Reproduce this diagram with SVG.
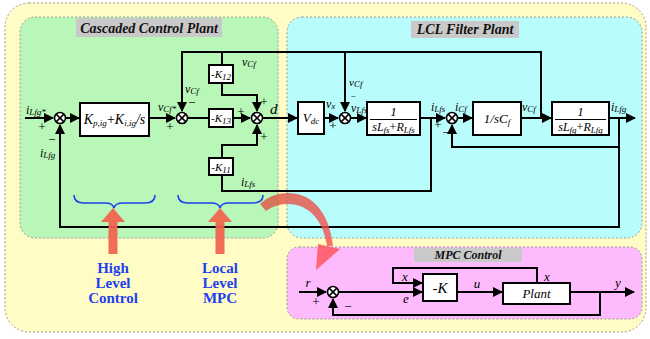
<svg xmlns="http://www.w3.org/2000/svg" width="650" height="339" viewBox="0 0 650 339" font-family="'Liberation Serif','Times New Roman','DejaVu Serif',serif">
<style>
.bg{stroke:#999;stroke-width:1;stroke-dasharray:2,2}
.ttl{fill:#c9c9c9}
text{font-family:'Liberation Serif','Times New Roman','DejaVu Serif',serif}
.tt{font-weight:bold;font-style:italic;font-size:14px;text-anchor:middle;fill:#111}
.t{font-style:italic;font-size:13px;fill:#000}
.p{font-size:13px;fill:#000}
.c{text-anchor:middle}
.s{font-size:9px}
.box{fill:#fff;stroke:#000;stroke-width:2}
.w{fill:none;stroke:#000;stroke-width:2}
.sum{fill:#fff;stroke:#000;stroke-width:1.6}
.bl{font-weight:bold;font-size:15px;fill:#1f3ff0;text-anchor:middle}
.br{fill:none;stroke:#1f3ff0;stroke-width:1.6}
.ra{fill:#f2614c;opacity:0.92}
</style>
<defs>
<marker id="ah" viewBox="0 0 10 10" refX="9" refY="5" markerWidth="5" markerHeight="5" orient="auto" markerUnits="strokeWidth">
<path d="M0 0 L10 5 L0 10 z" fill="#000"/>
</marker>
<symbol id="sx" overflow="visible">
<circle cx="0" cy="0" r="5.5" class="sum"/>
<path d="M-3.9 -3.9 L3.9 3.9 M3.9 -3.9 L-3.9 3.9" stroke="#000" stroke-width="1.5"/>
</symbol>
<linearGradient id="rg" x1="260" y1="200" x2="335" y2="265" gradientUnits="userSpaceOnUse">
<stop offset="0" stop-color="#d9543f"/>
<stop offset="1" stop-color="#ff4f55"/>
</linearGradient>
</defs>
<rect x="0" y="0" width="650" height="339" fill="#fff"/>
<g id="regions">
<rect x="5" y="3" width="641" height="329" rx="24" fill="#fffcc5" class="bg"/>
<rect x="20" y="17" width="258" height="221" rx="15" fill="#b9f7b9" class="bg"/>
<rect x="287" y="17" width="355" height="221" rx="15" fill="#b9fcfc" class="bg"/>
<rect x="287" y="247" width="355" height="72" rx="12" fill="#fdbafd" class="bg"/>
<rect x="76" y="18" width="146" height="19" class="ttl"/>
<text x="149" y="33" class="tt">Cascaded Control Plant</text>
<rect x="411" y="21" width="108" height="17" class="ttl"/>
<text x="465" y="34" class="tt">LCL Filter Plant</text>
<rect x="414" y="248" width="108" height="14" class="ttl"/>
<text x="468" y="259" class="tt" style="font-size:12px">MPC Control</text>
</g>
<g id="connectors">
<path class="w" d="M25 118 H53" marker-end="url(#ah)"/>
<path class="w" d="M65.5 118 H79" marker-end="url(#ah)"/>
<path class="w" d="M149 118 H175" marker-end="url(#ah)"/>
<path class="w" d="M187.5 118 H209"/>
<path class="w" d="M233 118 H250" marker-end="url(#ah)"/>
<path class="w" d="M262.5 118 H297" marker-end="url(#ah)"/>
<path class="w" d="M324 118 H338" marker-end="url(#ah)"/>
<path class="w" d="M350.5 118 H366" marker-end="url(#ah)"/>
<path class="w" d="M420 118 H445" marker-end="url(#ah)"/>
<path class="w" d="M457.5 118 H472" marker-end="url(#ah)"/>
<path class="w" d="M521 118 H551" marker-end="url(#ah)"/>
<path class="w" d="M609 118 H635" marker-end="url(#ah)"/>
<path class="w" d="M541 118 V52 H182 V111" marker-end="url(#ah)"/>
<path class="w" d="M345 52 V111" marker-end="url(#ah)"/>
<path class="w" d="M222 52 V65"/>
<path class="w" d="M222 83 V95 H257 V111" marker-end="url(#ah)"/>
<path class="w" d="M222 158 V145 H257 V125" marker-end="url(#ah)"/>
<path class="w" d="M431 118 V191 H222 V175"/>
<path class="w" d="M619 118 V147 H452 V125" marker-end="url(#ah)"/>
<path class="w" d="M619 147 V227 H60 V125" marker-end="url(#ah)"/>
<path class="w" d="M299 292 H326" marker-end="url(#ah)"/>
<path class="w" d="M338.5 292 H422" marker-end="url(#ah)"/>
<path class="w" d="M457 292 H502" marker-end="url(#ah)"/>
<path class="w" d="M570 292 H634" marker-end="url(#ah)"/>
<path class="w" d="M600 292 V315 H333 V299" marker-end="url(#ah)"/>
<path class="w" d="M537 283 V268 H393 V283 H422" marker-end="url(#ah)"/>
</g>
<g id="sum1"><use href="#sx" x="60" y="118"/></g>
<g id="sum2"><use href="#sx" x="182" y="118"/></g>
<g id="sum5"><use href="#sx" x="257" y="118"/></g>
<g id="sum4"><use href="#sx" x="345" y="118"/></g>
<g id="sum3"><use href="#sx" x="452" y="118"/></g>
<g id="sumMPC"><use href="#sx" x="333" y="292"/></g>
<g id="Kpi">
<rect x="80" y="103" width="69" height="33" class="box"/>
<text x="114.5" y="124" class="t c" style="font-size:14px">K<tspan class="s" dy="2">p,ig</tspan><tspan dy="-2" style="font-style:normal">+</tspan>K<tspan class="s" dy="2">i,ig</tspan><tspan dy="-2">/s</tspan></text>
</g>
<g id="K12">
<rect x="209" y="65" width="24" height="18" class="box"/>
<text x="221" y="78" class="t c" style="font-size:11px">-K<tspan class="s" dy="2">12</tspan></text>
</g>
<g id="K13">
<rect x="209" y="109" width="24" height="18" class="box"/>
<text x="221" y="122" class="t c" style="font-size:11px">-K<tspan class="s" dy="2">13</tspan></text>
</g>
<g id="K11">
<rect x="209" y="158" width="24" height="17" class="box"/>
<text x="221" y="171" class="t c" style="font-size:11px">-K<tspan class="s" dy="2">11</tspan></text>
</g>
<g id="Vdc">
<rect x="298" y="102" width="26" height="32" class="box"/>
<text x="311" y="122" class="t c" style="font-size:13px">V<tspan class="s" dy="2">dc</tspan></text>
</g>
<g id="Lfs">
<rect x="367" y="102" width="53" height="33" class="box"/>
<text x="393.5" y="116" class="t c">1</text>
<path d="M370 119.5 H417" stroke="#000" stroke-width="1"/>
<text x="393.5" y="131" class="t c" style="font-size:12px">sL<tspan class="s" dy="2">fs</tspan><tspan dy="-2" style="font-style:normal">+</tspan>R<tspan class="s" dy="2">Lfs</tspan></text>
</g>
<g id="Cf">
<rect x="473" y="102" width="48" height="33" class="box"/>
<text x="497" y="123" class="t c" style="font-size:13px">1/sC<tspan class="s" dy="2">f</tspan></text>
</g>
<g id="Lfg">
<rect x="552" y="102" width="57" height="33" class="box"/>
<text x="580.5" y="116" class="t c">1</text>
<path d="M555 119.5 H606" stroke="#000" stroke-width="1"/>
<text x="580.5" y="131" class="t c" style="font-size:12px">sL<tspan class="s" dy="2">fg</tspan><tspan dy="-2" style="font-style:normal">+</tspan>R<tspan class="s" dy="2">Lfg</tspan></text>
</g>
<g id="negK">
<rect x="423" y="274" width="34" height="27" class="box"/>
<text x="440" y="293" class="t c" style="font-size:15px">-K</text>
</g>
<g id="Plant">
<rect x="503" y="283" width="67" height="21" class="box"/>
<text x="536.5" y="298" class="t c">Plant</text>
</g>
<g id="labels">
<text x="26" y="114" class="t" style="font-size:12px">i<tspan class="s" dy="1">Lfg*</tspan></text>
<text x="42" y="131" class="p c">+</text>
<text x="52" y="144" class="p c">−</text>
<text x="40" y="157" class="t" style="font-size:12px">i<tspan class="s" dy="1">Lfg</tspan></text>
<text x="158" y="111" class="t" style="font-size:12px">v<tspan class="s" dy="1">Cf*</tspan></text>
<text x="170" y="131" class="p c">+</text>
<text x="185" y="93" class="t" style="font-size:12px">v<tspan class="s" dy="1">Cf</tspan></text>
<text x="192" y="107" class="p c">−</text>
<text x="242" y="66" class="t" style="font-size:12px">v<tspan class="s" dy="1">Cf</tspan></text>
<text x="264" y="106" class="p c">+</text>
<text x="270" y="114" class="t" style="font-size:15px">d</text>
<text x="241" y="116" class="p c">+</text>
<text x="264" y="141" class="p c">+</text>
<text x="241" y="186" class="t" style="font-size:12px">i<tspan class="s" dy="1">Lfs</tspan></text>
<text x="326" y="108" class="t" style="font-size:12px">v<tspan class="s" dy="1">x</tspan></text>
<text x="333" y="130" class="p c">+</text>
<text x="349" y="86" class="t" style="font-size:11px">v<tspan class="s" dy="1">Cf</tspan></text>
<text x="353" y="99" class="p c" style="font-size:9px">−</text>
<text x="351" y="112" class="t" style="font-size:12px">v<tspan class="s" dy="1">Lfs</tspan></text>
<text x="431" y="111" class="t" style="font-size:12px">i<tspan class="s" dy="1">Lfs</tspan></text>
<text x="438" y="129" class="p c">+</text>
<text x="446" y="137" class="p c">−</text>
<text x="455" y="111" class="t" style="font-size:12px">i<tspan class="s" dy="1">Cf</tspan></text>
<text x="522" y="111" class="t" style="font-size:12px">v<tspan class="s" dy="1">Cf</tspan></text>
<text x="611" y="111" class="t" style="font-size:12px">i<tspan class="s" dy="1">Lfg</tspan></text>
<text x="308" y="287" class="t c">r</text>
<text x="316" y="306" class="p c">+</text>
<text x="348" y="311" class="p c">−</text>
<text x="405" y="281" class="t c">x</text>
<text x="406" y="303" class="t c">e</text>
<text x="477" y="288" class="t c">u</text>
<text x="547" y="281" class="t c">x</text>
<text x="618" y="287" class="t c">y</text>
</g>
<g id="annotations">
<path class="br" d="M74 195 Q74 203 84 203 H105 Q113 203 114 208 Q115 203 123 203 H145 Q155 203 155 195"/>
<path class="br" d="M178 195 Q178 203 188 203 H211 Q219 203 220 208 Q221 203 229 203 H253 Q263 203 263 195"/>
<polygon class="ra" points="113,208 125,222 117.5,222 117.5,254 108.5,254 108.5,222 101,222"/>
<polygon class="ra" points="220,208 232,222 224.5,222 224.5,254 215.5,254 215.5,222 208,222"/>
<text class="bl" x="113" y="273">High</text>
<text class="bl" x="113" y="288">Level</text>
<text class="bl" x="113" y="303">Control</text>
<text class="bl" x="220" y="273">Local</text>
<text class="bl" x="220" y="288">Level</text>
<text class="bl" x="220" y="303">MPC</text>
<path d="M260 204 C278 186 326 184 333 246 L327 246 C320 200 284 198 266 211 Z" fill="url(#rg)" opacity="0.8"/>
<polygon points="318,244 340,249 316,270" fill="#ff4f55" opacity="0.8"/>
</g>
</svg>
